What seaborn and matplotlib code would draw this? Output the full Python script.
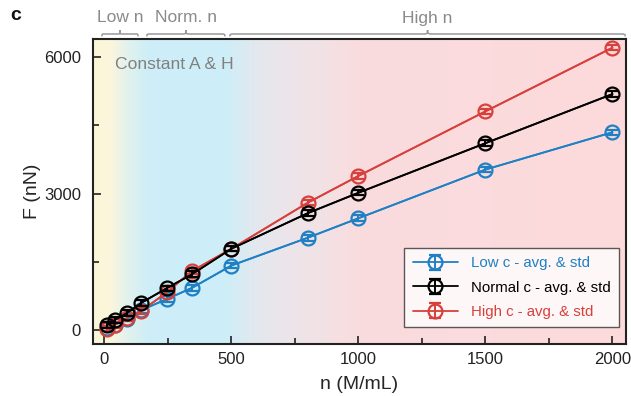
import numpy as np
import pandas as pd
import matplotlib
matplotlib.use("Agg")
import matplotlib.pyplot as plt
import seaborn as sns
from matplotlib.colors import LinearSegmentedColormap
from matplotlib.path import Path
from matplotlib.patches import PathPatch
import matplotlib.transforms as mtransforms

# ---------------- data ----------------
n_values = [10, 40, 90, 145, 245, 345, 500, 800, 1000, 1500, 2000]
low_c_avg = [40, 120, 250, 440, 680, 930, 1420, 2030, 2460, 3530, 4350]
normal_c_avg = [110, 220, 380, 600, 920, 1230, 1790, 2570, 3020, 4110, 5190]
high_c_avg = [30, 110, 270, 420, 830, 1300, 1790, 2800, 3390, 4810, 6210]
low_c_std = [60, 60, 60, 60, 60, 60, 60, 60, 60, 60, 60]
normal_c_std = [60, 60, 60, 60, 60, 60, 60, 60, 60, 60, 60]
high_c_std = [60, 60, 60, 60, 60, 60, 60, 60, 60, 60, 60]
series_labels = ["Low c - avg. & std", "Normal c - avg. & std", "High c - avg. & std"]
series_colors = ["#1f80c4", "#000000", "#d8403c"]
x_ticks = [0, 500, 1000, 1500, 2000]
y_ticks = [0, 3000, 6000]
region_labels = ["Low n", "Norm. n", "High n"]
region_spans = [(-10, 132), (167, 474), (494, 2050)]

# ---------------- style ----------------
sns.set_theme(style="ticks")
plt.rcParams["font.family"] = ["Liberation Sans", "DejaVu Sans"]

fig = plt.figure(figsize=(6.31, 3.96), dpi=100)
ax = fig.add_axes([0.147, 0.131, 0.845, 0.770])

xlim = (-46, 2053)
ylim = (-308, 6396)

# background gradient
stops = [
    (-46, "#fdf6d8"),
    (20, "#fbf6dc"),
    (80, "#e4f2ec"),
    (170, "#cdeef8"),
    (470, "#cdeef8"),
    (600, "#e4e8ee"),
    (700, "#ebe5ea"),
    (850, "#f2e2e5"),
    (1000, "#fadcde"),
    (2053, "#fddadc"),
]
pos = [(s[0] - xlim[0]) / (xlim[1] - xlim[0]) for s in stops]
cmap = LinearSegmentedColormap.from_list("bg", list(zip(pos, [s[1] for s in stops])))
grad = np.linspace(0, 1, 512).reshape(1, -1)
ax.imshow(grad, cmap=cmap, aspect="auto", extent=[xlim[0], xlim[1], ylim[0], ylim[1]],
          zorder=0, interpolation="bilinear")

# lines via seaborn
df = pd.DataFrame({
    "n": n_values * 3,
    "F": low_c_avg + normal_c_avg + high_c_avg,
    "series": [series_labels[0]] * len(n_values) + [series_labels[1]] * len(n_values)
              + [series_labels[2]] * len(n_values),
})
sns.lineplot(data=df, x="n", y="F", hue="series", palette=series_colors,
             hue_order=series_labels, legend=False, ax=ax, linewidth=1.3, zorder=2)

# markers + error bars
avgs = [low_c_avg, normal_c_avg, high_c_avg]
stds = [low_c_std, normal_c_std, high_c_std]
order = [0, 2, 1]
handles = {}
for i in order:
    h = ax.errorbar(n_values, avgs[i], yerr=stds[i], fmt="o-", color=series_colors[i],
                    mfc="none", mec=series_colors[i], ms=10, mew=1.6, elinewidth=1.4,
                    capsize=4, capthick=1.4, lw=1.3, label=series_labels[i],
                    zorder=3 + (1 if i == 1 else 0))
    handles[i] = h

ax.set_xlim(*xlim)
ax.set_ylim(*ylim)
ax.set_xticks(x_ticks)
ax.set_xticks([250, 750, 1250, 1750], minor=True)
ax.set_yticks(y_ticks)
ax.set_yticks([1500, 4500], minor=True)
ax.tick_params(axis="both", which="both", direction="in", labelsize=12, colors="#222222",
               top=False, right=False)
ax.tick_params(axis="both", which="major", length=6, width=1.2)
ax.tick_params(axis="x", which="major", pad=6)
ax.tick_params(axis="y", which="major", pad=8.5)
ax.tick_params(axis="both", which="minor", length=4, width=1.2)
for s in ax.spines.values():
    s.set_linewidth(1.5)
    s.set_color("#222222")
    s.set_zorder(5)
ax.set_xlabel("n (M/mL)", fontsize=14, labelpad=6)
ax.set_ylabel("F (nN)", fontsize=14, labelpad=2)

leg_handles = [handles[0], handles[1], handles[2]]
leg = ax.legend(leg_handles, series_labels, loc="lower right",
                bbox_to_anchor=(0.987, 0.056), borderaxespad=0, fontsize=10.8,
                frameon=True, fancybox=False, framealpha=0.8, edgecolor="#333333",
                handlelength=3.0, handletextpad=0.9, labelspacing=0.68, borderpad=0.55)
leg.get_frame().set_linewidth(1.0)
leg.get_frame().set_facecolor("#ffffff")
for t, c in zip(leg.get_texts(), series_colors):
    t.set_color(c)

ax.text(0.042, 0.916, "Constant A & H", transform=ax.transAxes, fontsize=12.6,
        color="#808080", ha="left", va="center")

# braces above the axes
trans = mtransforms.blended_transform_factory(ax.transData, fig.transFigure)
fig_h = 396.0
y_brace = (fig_h - 34) / fig_h
h = 4.0 / fig_h
for (x0, x1), lab in zip(region_spans, region_labels):
    mid = 0.5 * (x0 + x1)
    dx = min((x1 - x0) * 0.06, 25)
    verts = [
        (x0, y_brace - h * 0.6),
        (x0, y_brace), (x0, y_brace), (x0 + dx, y_brace),
        (mid - dx, y_brace),
        (mid, y_brace), (mid, y_brace), (mid, y_brace + h),
        (mid, y_brace), (mid, y_brace), (mid + dx, y_brace),
        (x1 - dx, y_brace),
        (x1, y_brace), (x1, y_brace), (x1, y_brace - h * 0.6),
    ]
    codes = [Path.MOVETO,
             Path.CURVE4, Path.CURVE4, Path.CURVE4,
             Path.LINETO,
             Path.CURVE4, Path.CURVE4, Path.CURVE4,
             Path.CURVE4, Path.CURVE4, Path.CURVE4,
             Path.LINETO,
             Path.CURVE4, Path.CURVE4, Path.CURVE4]
    patch = PathPatch(Path(verts, codes), transform=trans, fill=False,
                      edgecolor="#999999", lw=1.1, clip_on=False)
    fig.add_artist(patch)
    fig.text(mid, (fig_h - 18) / fig_h, lab, transform=trans, fontsize=12.5,
             color="#8a8a8a", ha="center", va="center")

fig.text(10 / 631, (fig_h - 16) / fig_h, "c", fontsize=14, fontweight="bold",
         ha="left", va="center", color="#111111")

fig.savefig("out.png", dpi=100)
